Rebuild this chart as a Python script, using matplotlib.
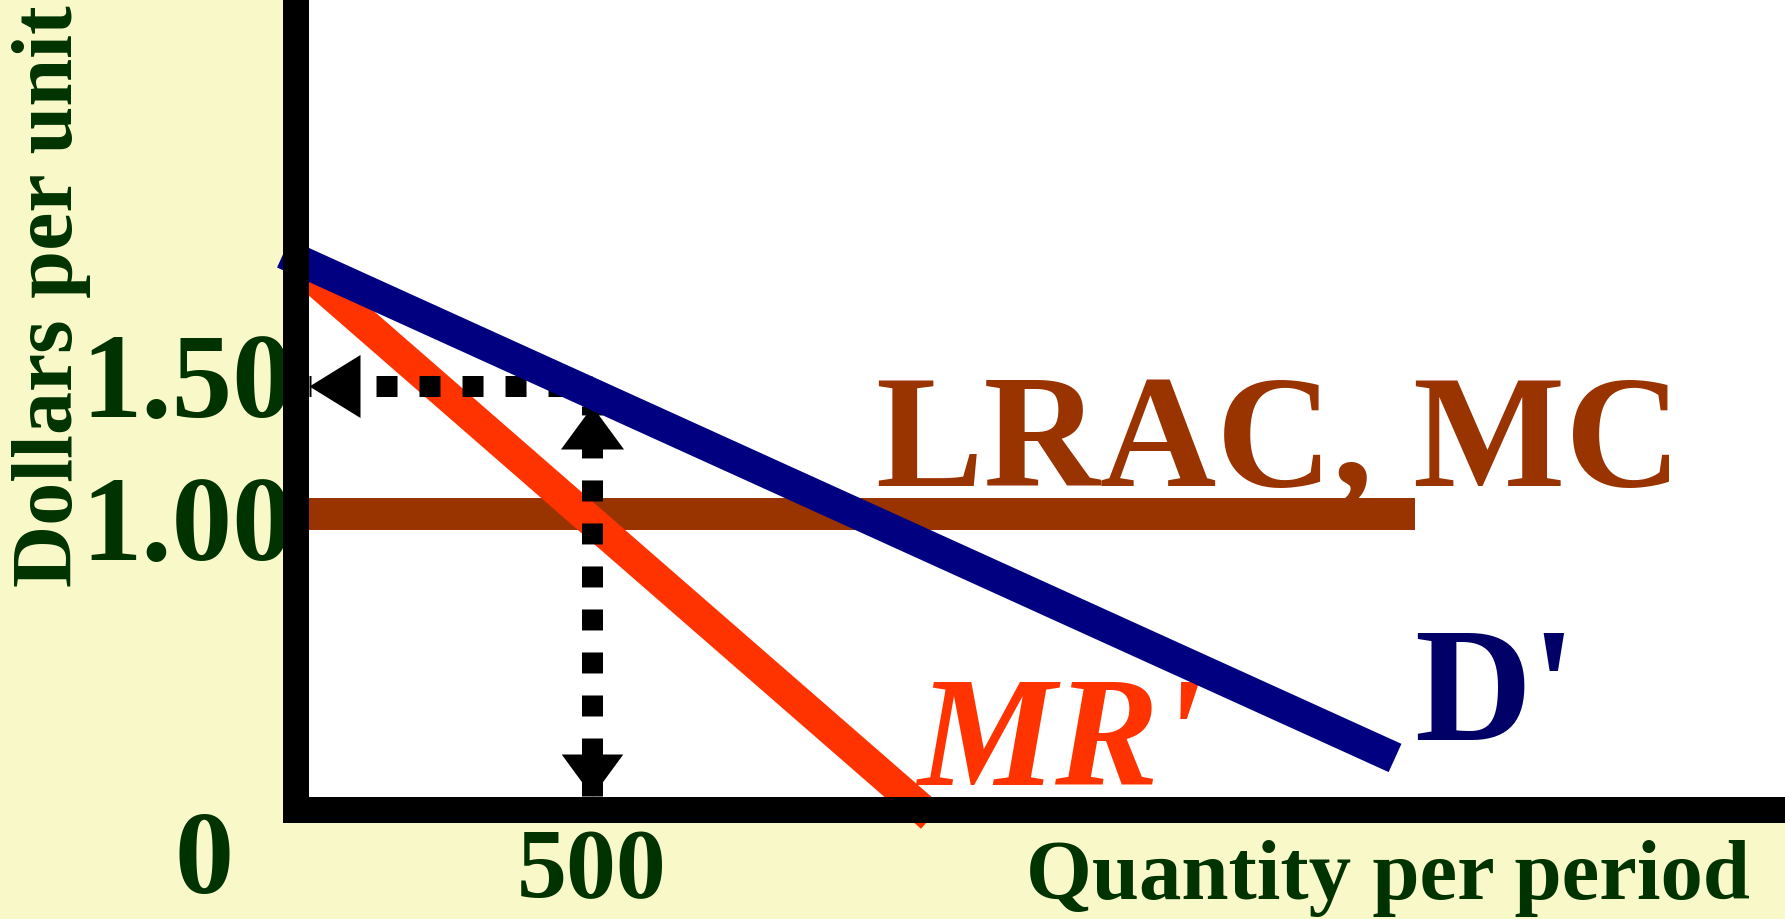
import matplotlib
matplotlib.use("Agg")
import matplotlib.pyplot as plt
import numpy as np

# ---- market data: dollars per unit against quantity per period ----
demand_q = [-21.2, 1856.5]          # D'
demand_p = [2.018, 0.047]
mr_q = [0.0, 1073.0]                # MR'
mr_p = [1.977, -0.184]
lrac_q = [0.0, 1890.0]              # LRAC = MC, constant
lrac_p = [1.00, 1.00]

output_q = 500                      # chosen output
output_price = 1.50                 # price charged
price_arrow_q = [21.6, 500.0]       # horizontal arrow: tip at the price axis
quantity_arrow_p = [-0.10, 1.42]    # vertical arrow: from the quantity axis up to D'

price_ticks = [1.00, 1.50]
price_tick_labels = ["1.00", "1.50"]
quantity_ticks = [500]
quantity_tick_labels = ["500"]

# ---- colours ----
BG = "#F8F8C8"
GREEN = "#003300"
BROWN = "#993300"
ORANGE = "#FF3300"
NAVY = "#000080"
NAVY_TXT = "#000066"

SERIF = "Liberation Serif"
DPI = 100
W, H = 1785, 920
PT = 72.0 / DPI                      # points per pixel

fig = plt.figure(figsize=(W / DPI, H / DPI), dpi=DPI, facecolor=BG)
ax = fig.add_axes([296 / W, 109 / H, 1489 / W, 811 / H])
ax.set_facecolor("white")
ax.set_xlim(0, 1489 / 0.592)
ax.set_ylim(1 - 296 / 256, 1 + 515 / 256)
ax.set_xticks([])
ax.set_yticks([])

for side in ("top", "right"):
    ax.spines[side].set_visible(False)
for side in ("left", "bottom"):
    sp = ax.spines[side]
    sp.set_color("black")
    sp.set_linewidth(26 * PT)
    sp.set_capstyle("projecting")
    sp.set_zorder(10)

# ---- curves ----
ax.plot(lrac_q, lrac_p, color=BROWN, lw=32 * PT, solid_capstyle="butt", zorder=2)
ax.plot(mr_q, mr_p, color=ORANGE, lw=31 * PT, solid_capstyle="butt", zorder=2.1,
        clip_on=False)
ax.plot(demand_q, demand_p, color=NAVY, lw=31 * PT, solid_capstyle="butt", zorder=4,
        clip_on=False)

# ---- dotted arrows ----
dash_lw = 21 * PT
ax.plot(price_arrow_q, [output_price, output_price], color="black", lw=dash_lw,
        linestyle=(0.905, (1.0, 1.048)), dash_capstyle="butt", zorder=3)
ax.plot([output_q, output_q], quantity_arrow_p, color="black", lw=dash_lw,
        linestyle=(0.286, (1.0, 1.048)), dash_capstyle="butt", zorder=3)


def head(verts, length_px):
    return dict(marker=np.array(verts), markersize=2 * length_px * PT,
                markeredgewidth=0, color="black", linestyle="none", zorder=3.2,
                clip_on=False)


ax.plot([price_arrow_q[0]], [output_price],
        **head([(0, 0), (1, 0.618), (1, -0.618)], 51))
ax.plot([output_q], [quantity_arrow_p[1]],
        **head([(0, 0), (0.733, -1), (-0.733, -1)], 43))
ax.plot([output_q], [quantity_arrow_p[0]],
        **head([(0, 0), (0.733, 1), (-0.733, 1)], 42))

# ---- curve labels ----
ax.text(980, 1.113, "LRAC, MC", color=BROWN, fontsize=116, fontfamily=SERIF,
        fontweight="bold", ha="left", va="baseline", zorder=3.5)
ax.text(1049, -0.055, "MR'", color=ORANGE, fontsize=112, fontfamily=SERIF,
        fontweight="bold", fontstyle="italic", ha="left", va="baseline",
        zorder=3.5, clip_on=False)
ax.text(1889, 0.121, "D'", color=NAVY_TXT, fontsize=117, fontfamily=SERIF,
        fontweight="bold", ha="left", va="baseline", zorder=3.5)

# ---- tick labels ----
tick_font = dict(color=GREEN, fontfamily=SERIF, fontweight="bold",
                 va="baseline", annotation_clip=False, zorder=1)
price_offsets = {"1.00": -45, "1.50": -30}
for val, lab in zip(price_ticks, price_tick_labels):
    ax.annotate(lab, xy=(0, val), xycoords="data",
                xytext=(-3, price_offsets[lab]), textcoords="offset pixels",
                ha="right", fontsize=87, **tick_font)
for val, lab in zip(quantity_ticks, quantity_tick_labels):
    ax.annotate(lab, xy=(val, 0), xycoords=("data", "axes fraction"),
                xytext=(0, -86), textcoords="offset pixels",
                ha="center", fontsize=72, **tick_font)
ax.annotate("0", xy=(0, 0), xycoords="axes fraction",
            xytext=(-92, -82), textcoords="offset pixels",
            ha="center", fontsize=85, **tick_font)

# ---- axis titles ----
ax.annotate("Quantity per period", xy=(1, 0), xycoords="axes fraction",
            xytext=(-397, -88), textcoords="offset pixels", ha="center",
            fontsize=61, **tick_font)
fig.text(72 / W, 1 - 296 / H, "Dollars per unit", rotation=90,
         rotation_mode="anchor", ha="center", va="baseline", color=GREEN,
         fontsize=62, fontfamily=SERIF, fontweight="bold")

fig.savefig("out.png", dpi=DPI, facecolor=BG)
